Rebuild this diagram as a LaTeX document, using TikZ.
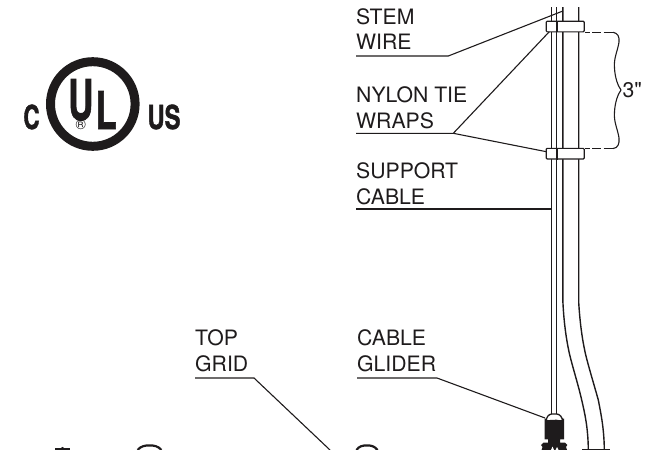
\documentclass[tikz,border=0pt]{standalone}
\usepackage{fontspec}
\setmainfont{TeX Gyre Heros}
\newfontfamily\plainfont{TeX Gyre Heros}
\newfontfamily\logofont[BoldFeatures={FakeBold=1.6}]{TeX Gyre Heros}
\newcommand{\lblfont}{\fontsize{21.2}{21.2}\selectfont}
\definecolor{ink}{HTML}{1E1B1C}
\tikzset{
  lbl/.style={anchor=base west,inner sep=0pt,font=\lblfont,text=ink},
  leader/.style={draw=ink,line width=1.1pt,line join=miter},
  rod/.style={draw=ink,line width=1.4pt},
  tie/.style={draw=ink,fill=white,line width=1.2pt,rounded corners=1pt,minimum width=38pt,minimum height=10.7pt,inner sep=0pt},
  logo/.style={inner sep=0pt,text=ink,font=\logofont\bfseries},
  bump/.style={draw=ink,line width=2.2pt},
}
\begin{document}
\begin{tikzpicture}[x=1pt,y=-1pt]
\useasboundingbox (0,0) rectangle (646,450);
% UL logo
\node[draw=ink,line width=9pt,circle,minimum size=84.6pt,inner sep=0pt,outer sep=0pt] (ring) at (92.8,104) {};
\node[logo,anchor=base] (u) at (80.8,120) {\fontsize{56}{56}\selectfont\scalebox{.62}[1]{U}};
\node[logo,anchor=base] (l) at (106.2,129) {\fontsize{52}{52}\selectfont\scalebox{.66}[1]{L}};
\node[logo,anchor=base] (c) at (31.5,129) {\fontsize{33}{33}\selectfont\scalebox{.68}[1]{C}};
\node[logo,anchor=base] (us) at (164,129) {\fontsize{33}{33}\selectfont\scalebox{.72}[1]{US}};
\node[inner sep=0pt,text=ink] (reg) at (80.7,124.8) {\fontsize{14}{14}\selectfont ®};
% labels
\node[lbl] (stem) at (356,24.5) {STEM};
\node[lbl] (wire) at (356,49) {WIRE};
\node[lbl] (nylon) at (356,102) {NYLON TIE};
\node[lbl] (wraps) at (356,128.5) {WRAPS};
\node[lbl] (support) at (356,178.5) {SUPPORT};
\node[lbl] (scable) at (356,204.5) {CABLE};
\node[lbl] (top) at (195,345) {TOP};
\node[lbl] (grid) at (195,371.5) {GRID};
\node[lbl] (gcable) at (357,345) {CABLE};
\node[lbl] (glider) at (357,371.5) {GLIDER};
\node[lbl] (three) at (622.5,97) {\plainfont 3"};
% rods
\coordinate (a1) at (551.7,7); \coordinate (a2) at (551.7,414);
\coordinate (c1) at (556.7,7); \coordinate (c2) at (556.7,414);
\draw[rod] (a1) -- (a2);
\draw[rod] (c1) -- (c2);
\draw[rod] (562.9,7) -- (562.9,302) .. controls (564,325) and (567,345) .. (571,360) .. controls (575,375) and (579,388) .. (581.7,400) .. controls (585,414) and (588,428) .. (588.3,449);
\draw[rod] (578.7,7) -- (578.7,302) .. controls (580,325) and (583,345) .. (587,360) .. controls (591,375) and (595,388) .. (598.3,400) .. controls (601,414) and (604,428) .. (604.3,449);
\draw[rod] (582,449.3) -- (610,449.3);
% ties
\node[tie] (t1) at (565.2,26.5) {};
\node[tie] (t2) at (565.2,153.7) {};
\draw[draw=ink,line width=1.8pt] (t1.north -| c1) -- (t1.south -| c1) (t2.north -| c1) -- (t2.south -| c1);
% leaders
\coordinate (wj) at (448.3,56); \coordinate (we) at (562.9,11);
\draw[leader] (wire.west |- wj) -- (wj) -- (we);
\coordinate (nj) at (453.3,133.3);
\coordinate (n1) at (549.3,31.7); \coordinate (n2) at (546.4,151.7);
\draw[leader] (wraps.west |- nj) -- (nj) -- (n1);
\draw[leader] (nj) -- (n2);
\coordinate (sj) at (551.7,209);
\draw[leader] (scable.west |- sj) -- (sj);
\coordinate (tj) at (254,378); \coordinate (te) at (330,450);
\draw[leader] (grid.west |- tj) -- (tj) -- (te);
\coordinate (gj) at (437,378); \coordinate (gl) at (545,418);
\draw[leader] (glider.west |- gj) -- (gj) -- (gl);
% brace
\coordinate (b1) at (584.5,32.3); \coordinate (b2) at (584.5,148.5);
\coordinate (b3) at (613,32.3); \coordinate (b4) at (613,148.5);
\draw[leader,dash pattern=on 5pt off 2.5pt on 9pt off 2.5pt] (b1) -- (605,32.3);
\draw[leader] (605,32.3) -- (b3);
\draw[leader,dash pattern=on 5pt off 2.5pt on 9pt off 2.5pt] (b2) -- (605,148.5);
\draw[leader] (605,148.5) -- (b4);
\draw[leader] (b3) .. controls (618,33) and (619.5,37) .. (619,42) .. controls (618,50) and (613.5,58) .. (614.5,68) .. controls (615,78) and (618,86) .. (621,90) .. controls (618,94) and (615,102) .. (614.5,112) .. controls (613.5,122) and (618,130) .. (619,138) .. controls (619.5,144) and (618,148) .. (b4);
% glider
\fill[ink] (544.7,418.5) -- (564,418.5) -- (564,439.3) -- (560,439.3) -- (560,442.7) -- (565,442.7) -- (567.3,445) -- (566,447) -- (567,450) -- (541.5,450) -- (542.5,447) -- (541,445) -- (543.5,442.7) -- (548,442.7) -- (548,439.3) -- (544.7,439.3) -- cycle;
\fill[white] (551,450) -- (552.5,446.5) -- (554,450) -- cycle (555.5,450) -- (557,447) -- (558.5,450) -- cycle;
\draw[ink,line width=1.3pt,fill=white] (546,422) .. controls (546,417) and (549,414) .. (551.7,414) -- (556.7,414) .. controls (559.5,414) and (562.7,417) .. (562.7,422) -- cycle;
\fill[ink] (545.5,423) -- (545.5,419.5) .. controls (550,421.5) and (552,418.5) .. (554,420) .. controls (556,418.5) and (559,421.5) .. (563,419.5) -- (563,423) -- cycle;
% grid bumps
\draw[bump] (137.5,450) .. controls (141,446) and (145,445.4) .. (149.5,445.4) .. controls (154,445.4) and (158,446) .. (161.5,450);
\draw[bump] (356.5,450) .. controls (359,446) and (363,445.4) .. (367,445.4) .. controls (371,445.4) and (374.5,446) .. (377.5,450);
\draw[bump] (55,449.4) -- (70,449.4);
\fill[ink] (60,449) -- (62.5,446.8) -- (65,449) -- cycle;
\end{tikzpicture}
\end{document}
